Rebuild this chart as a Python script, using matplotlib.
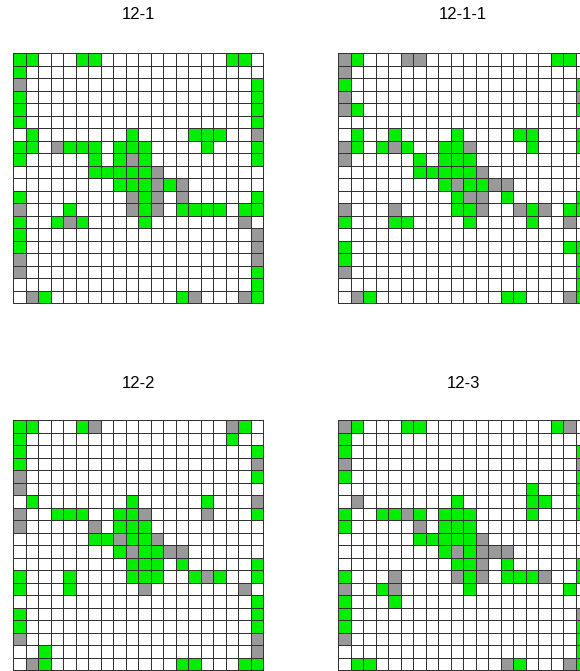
import numpy as np
import matplotlib
matplotlib.use("Agg")
import matplotlib.pyplot as plt
from matplotlib.colors import ListedColormap

titles = ["12-1", "12-1-1", "12-2", "12-3"]

grid_12_1 = [
    "GG...GG..........GG.",
    "G...................",
    "X..................G",
    "G..................G",
    "G..................G",
    "G..................G",
    ".G.......G....GGG..X",
    "GG.XGGG.GGG....G...G",
    "G.....G.GXG........G",
    "......GGGGGX........",
    "........GGGXGX......",
    "G........XGX.X.....G",
    "X...G....XGX.GGGG.GG",
    "G..GXG....G.......X.",
    "G..................X",
    "G..................X",
    "X..................X",
    "X..................G",
    "...................G",
    ".XG..........GX...XG",
]

grid_12_1_1 = [
    "XG...XX..........GG.",
    "X...................",
    "G..................G",
    "X..................X",
    "XG.................G",
    "....................",
    ".G..G....G....GG...G",
    "XG.GXG..GGX....G...G",
    "X.....G.GGG.........",
    "......GGGGGX........",
    "........GXGGXX......",
    ".........GXX.G.....G",
    "X...X....GGX..XGX.GG",
    "G...GG....G....G..X.",
    "....................",
    "G.................GG",
    "G..................G",
    "X..................G",
    "...................G",
    ".XG..........GG...XG",
]

grid_12_2 = [
    "GG...GX..........XG.",
    "G................G..",
    "G..................G",
    "G..................X",
    "X..................G",
    "X...................",
    ".G.......G.....G...X",
    "X..GGG..GGX....X...G",
    "X.....X.GGG.........",
    "......GGXGGX........",
    "........GXGGXX......",
    ".........GGG.G.....G",
    "G...G....GGG..GXG..G",
    "G...G.....X.......X.",
    "...................G",
    "G..................G",
    "G..................G",
    "X..................X",
    "..G................X",
    ".XG..........GG...GG",
]

grid_12_3 = [
    "XG...GG..........GX.",
    "G...................",
    "G..................G",
    "X..................X",
    "G..................G",
    "...............G...G",
    ".X.......G.....GG..G",
    "G..GGXG.GGG....G...G",
    "G.....X.GGG.........",
    "......GGGGGX........",
    "........GXGXXX......",
    ".........GGX.G.....G",
    "G...X....XGX.GGGX..G",
    "X..GX.....G.......G.",
    "G...G...............",
    "G..................X",
    "G..................G",
    "X..................G",
    "...................G",
    ".GG..........XG...XG",
]

grids = [grid_12_1, grid_12_1_1, grid_12_2, grid_12_3]
state_codes = {".": 0, "X": 1, "G": 2}
cmap = ListedColormap(["#ffffff", "#999999", "#00ee00"])

W, H = 580, 671
fig = plt.figure(figsize=(W / 100, H / 100), dpi=100)

lefts = [13.3, 338.3, 13.3, 338.3]
tops = [53.3, 53.3, 420.3, 420.3]
title_y = [14.5, 14.5, 384, 384]
size = 250.0

for grid, title, lx, ty, tyy in zip(grids, titles, lefts, tops, title_y):
    arr = np.array([[state_codes[c] for c in row] for row in grid])
    ax = fig.add_axes([lx / W, (H - ty - size) / H, size / W, size / H])
    mesh = ax.pcolormesh(arr, cmap=cmap, vmin=-0.5, vmax=2.5,
                         edgecolors="#333333", linewidth=0.6)
    mesh.set_clip_on(False)
    ax.set_xlim(0, arr.shape[1])
    ax.set_ylim(arr.shape[0], 0)
    ax.axis("off")
    fig.text((lx + size / 2) / W, 1 - tyy / H, title, ha="center", va="center",
             fontsize=12, family="Liberation Sans", color="#000000")

fig.savefig("out.png", dpi=100)
